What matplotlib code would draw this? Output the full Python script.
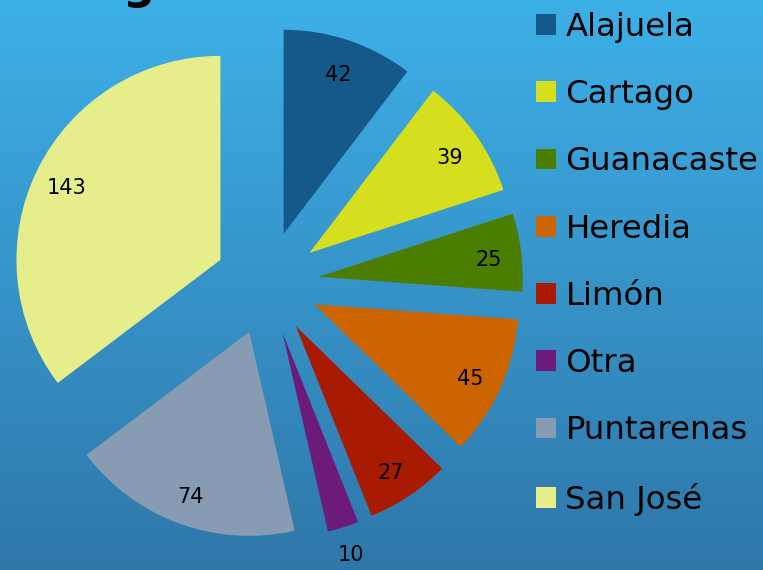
import numpy as np
import matplotlib.pyplot as plt
from matplotlib.colors import LinearSegmentedColormap

provincias = ['Alajuela', 'Cartago', 'Guanacaste', 'Heredia',
              'Limón', 'Otra', 'Puntarenas', 'San José']
cantidad = [42, 39, 25, 45, 27, 10, 74, 143]
colores = ['#14598A', '#D5DF1E', '#4B7E00', '#CC6500',
           '#A91A02', '#6C1B7A', '#879CB2', '#E6EE8C']

W, H = 763, 570
fig = plt.figure(figsize=(W / 100, H / 100), dpi=100)

# background gradient
bg = fig.add_axes([0, 0, 1, 1])
grad = LinearSegmentedColormap.from_list('bg', ['#2F77A9', '#3DB0E8'])
bg.imshow(np.linspace(0, 1, 256).reshape(-1, 1), cmap=grad, aspect='auto',
          extent=[0, 1, 0, 1], origin='lower')
bg.axis('off')

ax = fig.add_axes([0, 0, 1, 1])
ax.patch.set_alpha(0)

r = 204
cx, cy = 267, H - 283
# explode is in data units here (pixels), not a fraction
wedges, _ = ax.pie(cantidad, colors=colores, radius=r, center=(cx, cy),
                   startangle=90, counterclock=False,
                   explode=[52] * len(cantidad),
                   wedgeprops=dict(linewidth=0))

# data labels
for w, v in zip(wedges, cantidad):
    ang = np.deg2rad((w.theta1 + w.theta2) / 2)
    dist = 1.12 if v == 10 else 0.84
    x = w.center[0] + dist * r * np.cos(ang)
    y = w.center[1] + dist * r * np.sin(ang) - 4
    ax.text(x, y, str(v), ha='center', va='center', fontsize=15, color='black')

ax.set_xlim(0, W)
ax.set_ylim(0, H)
ax.set_aspect('equal')
ax.axis('off')

leg = ax.legend(wedges, provincias, loc='upper left',
                bbox_to_anchor=(536 / W, 1 - 12 / H),
                frameon=False, fontsize=23.3, handlelength=0.61,
                handleheight=0.61, handletextpad=0.3, labelspacing=1.12,
                borderpad=0, borderaxespad=0)

# cropped title at the top edge
fig.text(49 / W, 1 + 1 / H, 'Origen', fontsize=32, fontweight='bold',
         va='baseline', ha='left', color='black')

fig.savefig('out.png', dpi=100)
